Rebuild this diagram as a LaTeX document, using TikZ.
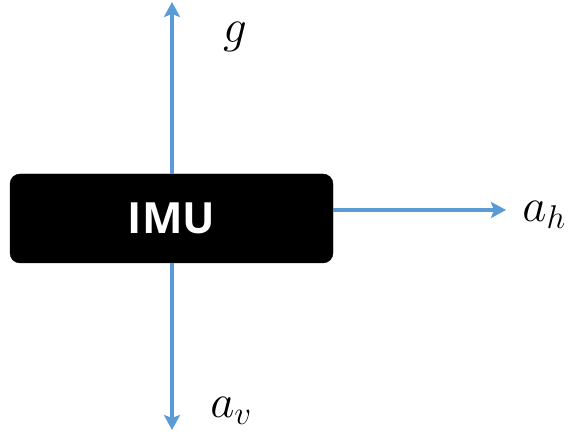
\documentclass[tikz,border=0pt]{standalone}
\usepackage{fix-cm}
\usepackage{fontspec}
\newfontfamily\boxfont{Open Sans}
\usetikzlibrary{arrows.meta,positioning,calc}

\begin{document}
\begin{tikzpicture}[
    x=1pt,y=1pt,
    imu/.style={rectangle,fill=black,draw=black,minimum width=323pt,minimum height=89pt,rounded corners=10pt,text=white,font=\boxfont\bfseries\fontsize{43}{45}\selectfont},
    arrow/.style={line width=3.5pt,->,>={Stealth[length=15pt,width=16pt,inset=3pt]},draw={rgb,255:red,91;green,155;blue,213}},
    lbl/.style={font=\fontsize{47}{50}\selectfont}
]
    \useasboundingbox (0,0) rectangle (570,441);

    \node[imu] (imu) at (171.5,222.5) {IMU};

    \coordinate (gtip) at (172,439);
    \coordinate (vtip) at (172,11);
    \coordinate (htip) at (506,231);

    \node[lbl] (g) at (235,404) {$g$};
    \node[lbl] (ah) at (544,226) {$a_h$};
    \node[lbl] (av) at (231,30) {$a_v$};

    \draw[arrow] (imu.north -| gtip) -- (gtip);
    \draw[arrow] (imu.south -| vtip) -- (vtip);
    \draw[arrow] (imu.east |- htip) -- (htip);
\end{tikzpicture}
\end{document}
